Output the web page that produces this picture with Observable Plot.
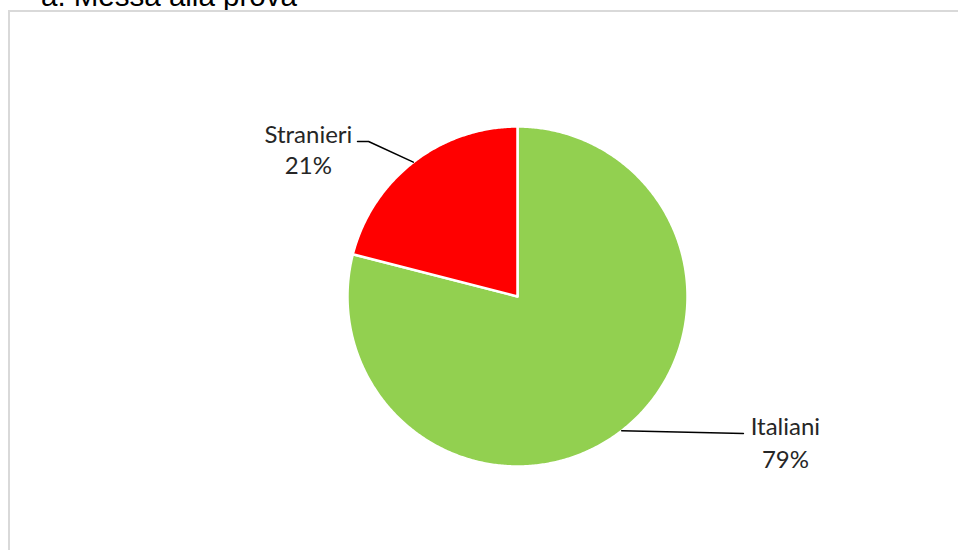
<!DOCTYPE html>
<html>
<head>
<meta charset="utf-8">
<script src="https://cdn.jsdelivr.net/npm/d3@7"></script>
<script src="https://cdn.jsdelivr.net/npm/@observablehq/plot@0.6"></script>
<style>
  html, body { margin: 0; padding: 0; background: #fff; width: 958px; height: 550px; overflow: hidden; }
  #title { position: absolute; left: 41px; top: -19.5px; font-family: "Liberation Sans", Arial, sans-serif; font-size: 29.5px; line-height: 29.5px; color: #000; white-space: nowrap; }
  #box { position: absolute; left: 8px; top: 10px; width: 970px; height: 560px; border-left: 2px solid #d9d9d9; border-top: 2px solid #d9d9d9; box-sizing: border-box; }
  #chart { position: absolute; left: 0; top: 0; }
</style>
</head>
<body>
<div id="title">a. Messa alla prova</div>
<div id="box"></div>
<div id="chart"></div>
<script>
const categories = ["Italiani", "Stranieri"];
const values = [79, 21];
const colors = ["#92D050", "#FF0000"];

// pie geometry (unit circle, angles clockwise from 12 o'clock)
const total = d3.sum(values);
const arcs = d3.pie().sort(null).value(d => d)(values);
const toXY = (a, r = 1) => [Math.sin(a) * r, Math.cos(a) * r];

const polys = [];
arcs.forEach((arc, i) => {
  const cat = categories[i];
  polys.push({cat, x: 0, y: 0});
  const n = Math.max(2, Math.ceil((arc.endAngle - arc.startAngle) / (Math.PI / 360)));
  for (let k = 0; k <= n; k++) {
    const a = arc.startAngle + (arc.endAngle - arc.startAngle) * k / n;
    const [x, y] = toXY(a);
    polys.push({cat, x, y});
  }
  polys.push({cat, x: 0, y: 0});
});

// label layout (unit coordinates relative to pie radius)
const layout = {
  "Stranieri": {elbow: [-0.876, 0.912], end: [-0.941, 0.912], tx: -1.23, nameY: 0.951, pctY: 0.763},
  "Italiani": {elbow: null, end: [1.329, -0.806], tx: 1.576, nameY: -0.772, pctY: -0.961}
};

const leaders = [];
const labels = [];
arcs.forEach((arc, i) => {
  const cat = categories[i];
  const L = layout[cat];
  const mid = (arc.startAngle + arc.endAngle) / 2;
  const [ax, ay] = toXY(mid);
  leaders.push({cat, x: ax, y: ay});
  if (L.elbow) leaders.push({cat, x: L.elbow[0], y: L.elbow[1]});
  leaders.push({cat, x: L.end[0], y: L.end[1]});
  labels.push({text: cat, x: L.tx, y: L.nameY});
  labels.push({text: Math.round(values[i] / total * 100) + "%", x: L.tx, y: L.pctY});
});

const chart = Plot.plot({
  width: 958,
  height: 550,
  margin: 0,
  x: {domain: [-1, 1], range: [347, 687], axis: null},
  y: {domain: [-1, 1], range: [466, 126], axis: null},
  color: {domain: categories, range: colors},
  style: {background: "transparent", overflow: "visible"},
  marks: [
    Plot.line(polys, {x: "x", y: "y", z: "cat", fill: "cat", stroke: "white", strokeWidth: 2.5, strokeLinejoin: "round", curve: "linear"}),
    Plot.line(leaders, {x: "x", y: "y", z: "cat", stroke: "#000", strokeWidth: 1.5, curve: "linear"}),
    Plot.text(labels, {x: "x", y: "y", text: "text", fill: "#262626", fontSize: 24, fontFamily: "Lato, 'Noto Sans', sans-serif", textAnchor: "middle"})
  ]
});
document.getElementById("chart").appendChild(chart);
</script>
</body>
</html>
